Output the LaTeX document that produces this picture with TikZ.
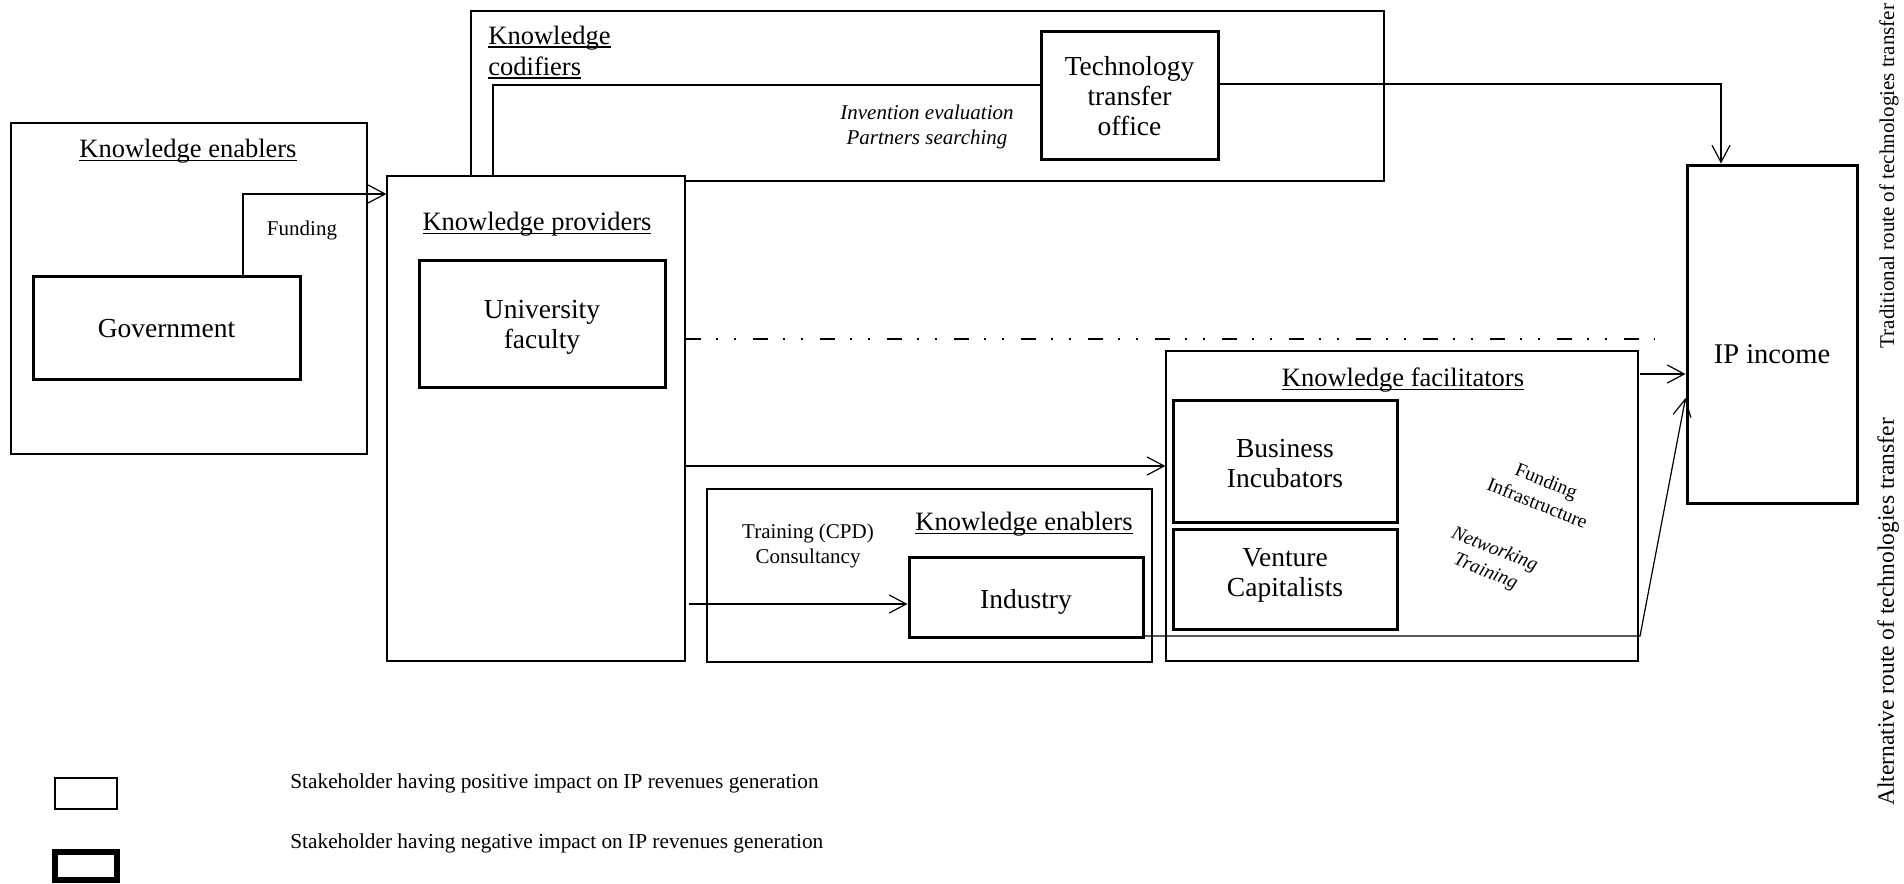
\documentclass[tikz,border=0pt]{standalone}
\usepackage{fontspec}
\setmainfont{Liberation Serif}
\usetikzlibrary{arrows.meta}
\newcommand{\kul}[1]{\setbox0\hbox{#1}\rlap{\rule[-1.6pt]{\wd0}{0.75pt}}\box0}
\begin{document}
\begin{tikzpicture}[x=0.5pt,y=-0.5pt,
  grp/.style={draw, line width=0.65pt, fill=white, inner sep=0pt},
  stake/.style={draw, line width=1.5pt, fill=white, inner sep=0pt},
  btxt/.style={inner sep=0pt, align=center, font=\fontsize{13.75pt}{15pt}\selectfont},
  ttl/.style={inner sep=0pt, font=\fontsize{13.25pt}{15.5pt}\selectfont},
  small/.style={inner sep=0pt, align=center, font=\fontsize{10.5pt}{12.75pt}\selectfont},
  rot/.style={inner sep=0pt, align=center, rotate=-22, font=\fontsize{9.75pt}{12pt}\selectfont},
  edge/.style={inner sep=0pt, rotate=90, font=\fontsize{10.5pt}{13pt}\selectfont},
  conn/.style={line width=0.6pt},
  arr/.style={line width=0.6pt, -{Straight Barb[length=8.5pt,width=9pt]}},
  dashdotline/.style={line width=1pt, dash pattern=on 7.5pt off 7.5pt on 1pt off 8pt on 1pt off 8.5pt}
]
\useasboundingbox (0,0) rectangle (1904,883);

% Knowledge codifiers group
\node[grp, minimum width=456.5pt, minimum height=85pt] (codif) at (927.5,96) {};
\node[ttl, anchor=west, align=left] (codifT) at (488,52.5) {\kul{Knowledge}\\\kul{codifiers}};
\node[stake, minimum width=88.5pt, minimum height=63.5pt] (tto) at (1129.5,95.5) {};
\node[btxt] (ttoT) at (1129.5,96) {Technology\\transfer\\office};
\node[small, font=\fontsize{10.5pt}{12.75pt}\selectfont\itshape] (inv) at (927,127) {Invention evaluation\\Partners searching};

% Knowledge enablers (government)
\node[grp, minimum width=178pt, minimum height=165.5pt] (enab1) at (189,288.5) {};
\node[ttl] (enab1T) at (188,151.5) {\kul{Knowledge enablers}};
\node[stake, minimum width=133.5pt, minimum height=51.5pt] (gov) at (166.5,327.5) {};
\node[btxt] (govT) at (166.5,329) {Government};
\node[small] (fund) at (302,230.5) {Funding};

% Knowledge providers
\node[grp, minimum width=149pt, minimum height=242.5pt] (prov) at (536,418.5) {};
\node[ttl] (provT) at (537,224.5) {\kul{Knowledge providers}};
\node[stake, minimum width=123pt, minimum height=63.5pt] (univ) at (542,323.5) {};
\node[btxt] (univT) at (542,327) {University\\faculty};

% Knowledge enablers (industry)
\node[grp, minimum width=222.5pt, minimum height=86.5pt] (enab2) at (929.5,575.5) {};
\node[ttl] (enab2T) at (1024,524.5) {\kul{Knowledge enablers}};
\node[small] (cpd) at (808,546) {Training (CPD)\\Consultancy};
\node[stake, minimum width=117pt, minimum height=40pt] (ind) at (1026,597) {};
\node[btxt] (indT) at (1026,602) {Industry};

% Knowledge facilitators
\node[grp, minimum width=236pt, minimum height=155pt] (facil) at (1402,506) {};
\node[ttl] (facilT) at (1403,380.5) {\kul{Knowledge facilitators}};
\node[stake, minimum width=112pt, minimum height=61pt] (bi) at (1285,461) {};
\node[btxt] (biT) at (1285,464) {Business\\Incubators};
\node[stake, minimum width=112pt, minimum height=50pt] (vc) at (1285,579) {};
\node[btxt] (vcT) at (1285,575) {Venture\\Capitalists};
\node[rot] (fi) at (1542,492) {Funding\\Infrastructure};
\node[rot, font=\fontsize{9.75pt}{12pt}\selectfont\itshape] (nt) at (1490,561) {Networking\\Training};

% IP income
\node[stake, minimum width=85pt, minimum height=169pt] (ip) at (1772,334) {};
\node[inner sep=0pt, font=\fontsize{14.25pt}{16pt}\selectfont] (ipT) at (1772,354) {IP income};

% Connectors
\coordinate (fA) at (243,194);
\draw[arr] (gov.north -| fA) -- (fA) -- (fA -| prov.west);
\coordinate (cA) at (493,85);
\draw[conn] (cA |- prov.north) -- (cA) -- (cA -| tto.west);
\coordinate (tB) at (1721,84);
\draw[arr] (tB -| tto.east) -- (tB) -- (tB |- ip.north);
\coordinate (dE) at (1654,339);
\draw[dashdotline] (dE -| prov.east) -- (dE);
\coordinate (pF) at (700,466);
\draw[arr] (pF -| prov.east) -- (pF -| facil.west);
\coordinate (pI) at (689,604);
\draw[arr] (pI) -- (pI -| ind.west);
\coordinate (fI) at (1640,374);
\draw[arr] (fI) -- (fI -| ip.west);
\coordinate (iK) at (1640,636);
\coordinate (iT) at (1687,398);
\draw[arr] (iK -| ind.east) -- (iK) -- (iT -| ip.west);

% Side texts
\node[edge] (trad) at (1889,176) {Traditional route of technologies transfer};
\node[edge, font=\fontsize{11.75pt}{13pt}\selectfont] (alt) at (1888,612) {Alternative route of technologies transfer};

% Legend
\node[draw, line width=1pt, minimum width=31pt, minimum height=15.5pt, inner sep=0pt] (legP) at (86,793.5) {};
\node[draw, line width=3pt, minimum width=31pt, minimum height=14pt, inner sep=0pt] (legN) at (86,866) {};
\node[small, anchor=west, font=\fontsize{10.65pt}{12.75pt}\selectfont] (legPT) at (290,783.5) {Stakeholder having positive impact on IP revenues generation};
\node[small, anchor=west, font=\fontsize{10.65pt}{12.75pt}\selectfont] (legNT) at (290,843) {Stakeholder having negative impact on IP revenues generation};
\end{tikzpicture}
\end{document}
